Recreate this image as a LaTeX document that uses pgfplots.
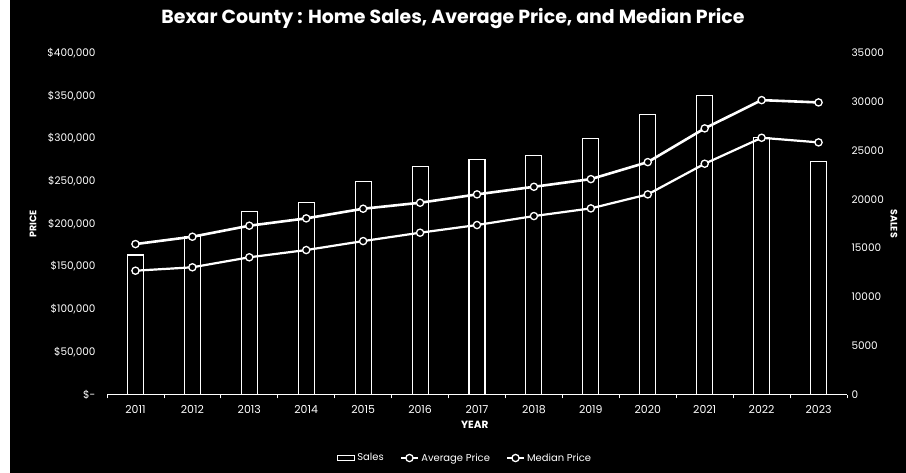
\documentclass[border=0pt]{standalone}
\usepackage{pgfplots}
\pgfplotsset{compat=1.18}
\usepackage{fontspec}
\setmainfont{Poppins}
\begin{document}
\begin{tikzpicture}
\fill[white] (0bp,0bp) rectangle (906bp,473bp);
\fill[black] (10bp,0bp) rectangle (906bp,473bp);
\node[white, font=\bfseries\fontsize{19}{21}\selectfont] at (453bp,454bp) {Bexar County : Home Sales, Average Price, and Median Price};
% Sales bars (right axis)
\begin{axis}[at={(107bp,78.5bp)}, anchor=south west, scale only axis,
  width=740bp, height=341.5bp,
  xmin=-0.5, xmax=12.5, ymin=0, ymax=35000,
  axis y line*=right, axis x line*=bottom,
  y axis line style={draw=none},
  x axis line style={white, line width=1.2bp, -},
  xtick={0,...,12},
  xticklabels={2011,2012,2013,2014,2015,2016,2017,2018,2019,2020,2021,2022,2023},
  major x tick style={draw=none},
  minor xtick={-0.5,0.5,...,12.5},
  minor tick length=4bp,
  minor x tick style={white, line width=0.8bp},
  ytick={0,5000,...,35000},
  scaled y ticks=false,
  major y tick style={draw=none},
  /pgf/number format/assume math mode=true,
  /pgf/number format/1000 sep={},
  /pgf/number format/fixed,
  ticklabel style={white, font=\fontsize{10.5}{12}\selectfont},
  xticklabel style={yshift=-3bp, font=\fontsize{11}{12}\selectfont},
  yticklabel style={xshift=1bp},
  xlabel={YEAR}, xlabel style={white, font=\bfseries\fontsize{10.5}{12}\selectfont, at={(axis description cs:0.497,-0.088)}, anchor=center},
  ylabel={SALES}, ylabel style={white, font=\bfseries\fontsize{9.5}{11}\selectfont, at={(axis description cs:1.0635,0.5)}, anchor=center, rotate=180},
  ybar, bar width=16bp,
]
\addplot[fill=black, draw=white, line width=1.1bp] coordinates {
(0,14300) (1,16200) (2,18800) (3,19700) (4,21800) (5,23400) (6,24100)
(7,24500) (8,26200) (9,28700) (10,30600) (11,26300) (12,23900)};
\end{axis}
% Prices (left axis)
\begin{axis}[at={(107bp,78.5bp)}, anchor=south west, scale only axis,
  width=740bp, height=341.5bp,
  xmin=-0.5, xmax=12.5, ymin=0, ymax=400000,
  axis x line=none, axis y line*=left,
  y axis line style={draw=none},
  major y tick style={draw=none},
  ytick={0,50000,...,400000},
  scaled y ticks=false,
  yticklabels={{\$-},{\$50,000},{\$100,000},{\$150,000},{\$200,000},{\$250,000},{\$300,000},{\$350,000},{\$400,000}},
  ticklabel style={white, font=\fontsize{10.5}{12}\selectfont},
  yticklabel style={xshift=-8bp},
  ylabel={PRICE}, ylabel style={white, font=\bfseries\fontsize{9.5}{11}\selectfont, at={(axis description cs:-0.10,0.5)}, anchor=center},
  legend style={at={(axis description cs:0.484,-0.186)}, anchor=center, legend columns=3, draw=none, fill=none, text=white, font=\fontsize{10}{12}\selectfont, /tikz/every even column/.append style={column sep=14bp}},
  legend cell align=left,
]
\addlegendimage{area legend, fill=black, draw=white, line width=1bp}
\addlegendentry{Sales}
\addplot[white, line width=2.6bp, mark=*, mark size=3.6bp, mark options={fill=black, draw=white, line width=1.3bp}] coordinates {
(0,176200) (1,184800) (2,197700) (3,206300) (4,217600) (5,224600) (6,234400)
(7,243300) (8,252300) (9,272200) (10,311700) (11,344800) (12,342100)};
\addlegendentry{Average Price}
\addplot[white, line width=2.2bp, mark=*, mark size=3.6bp, mark options={fill=black, draw=white, line width=1.3bp}] coordinates {
(0,145000) (1,149000) (2,160700) (3,169200) (4,179700) (5,189500) (6,198500)
(7,209000) (8,218000) (9,234400) (10,270300) (11,300700) (12,295300)};
\addlegendentry{Median Price}
\end{axis}
\end{tikzpicture}
\end{document}
